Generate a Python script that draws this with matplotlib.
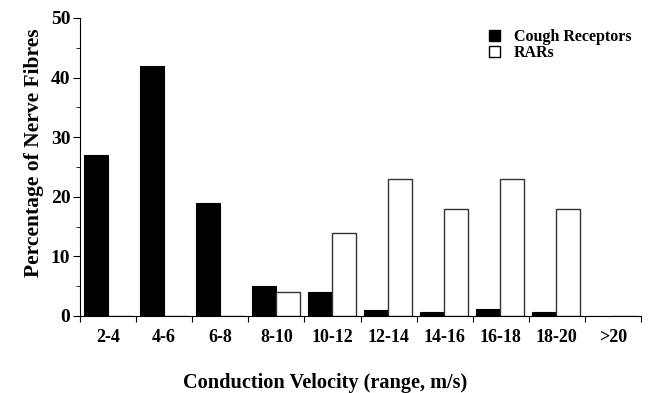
import matplotlib
matplotlib.use("Agg")
import matplotlib.pyplot as plt
import numpy as np
from matplotlib.patches import Patch

categories = ["2-4", "4-6", "6-8", "8-10", "10-12", "12-14", "14-16", "16-18", "18-20", ">20"]
cough = [27, 42, 19, 5, 4, 1, 0.6, 1.1, 0.6, 0]
rars = [0, 0, 0, 4, 14, 23, 18, 23, 18, 0]

plt.rcParams['font.family'] = ['Liberation Serif', 'DejaVu Serif']
plt.rcParams['font.weight'] = 'bold'

fig = plt.figure(figsize=(6.48, 3.93), dpi=100)
ax = fig.add_axes([80/648, 1-316/393, 561/648, 298/393])

x = np.arange(len(categories))
w = 24/56
off = 3.5/56
ax.bar(x + off, cough, width=w, align='edge', color='black', edgecolor='black', linewidth=0.8)
ax.bar(x + off + w, rars, width=w, align='edge', color='white', edgecolor='#333333', linewidth=1.0)

ax.set_xlim(0, len(categories))
ax.set_ylim(0, 50)
ax.set_xticks(np.arange(len(categories) + 1))
ax.set_xticklabels([])
ax.set_xticks(x + 0.5, minor=True)
ax.set_xticklabels(categories, minor=True, fontsize=13, fontweight='bold')
ax.tick_params(axis='x', which='minor', length=0, pad=9)
ax.tick_params(axis='x', which='major', length=4, direction='out')
ax.set_yticks(np.arange(0, 51, 10))
ax.set_yticks(np.arange(5, 50, 10), minor=True)
ax.tick_params(axis='y', which='major', length=5, labelsize=14, pad=2)
ax.tick_params(axis='y', which='minor', length=3)
for lbl in ax.get_yticklabels():
    lbl.set_fontweight('bold')

for s in ['top', 'right']:
    ax.spines[s].set_visible(False)

ax.set_ylabel("Percentage of Nerve Fibres", fontsize=15.5, fontweight='bold')
ax.yaxis.set_label_coords(-0.064, 0.547)
ax.set_xlabel("Conduction Velocity (range, m/s)", fontsize=14.6, fontweight='bold')
ax.xaxis.set_label_coords(0.437, -0.225)
ax.xaxis.label.set_va('center')

handles = [Patch(facecolor='black', edgecolor='black', label='Cough Receptors'),
           Patch(facecolor='white', edgecolor='black', label='RARs')]
ax.legend(handles=handles, loc='upper right', bbox_to_anchor=(1.0, 0.995), frameon=False,
          handlelength=0.65, handleheight=0.65, handletextpad=0.9,
          labelspacing=0.0, borderpad=0.1, prop={'weight': 'bold', 'size': 11.5})

fig.savefig("out.png", dpi=100)
